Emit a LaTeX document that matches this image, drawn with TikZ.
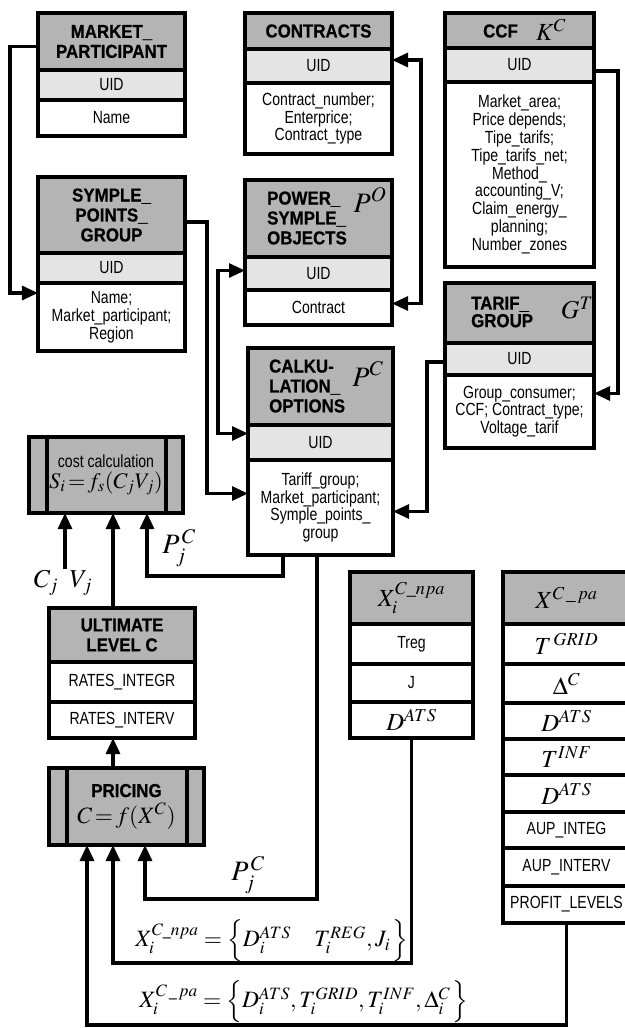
\documentclass[tikz,border=0pt]{standalone}
\usepackage{amsmath}
\usepackage{mathptmx}
\usepackage{fontspec}
\setmainfont{Liberation Sans}[FakeStretch=0.8]
\newfontfamily\hdfont{Liberation Sans Bold}[FakeStretch=0.9, FakeBold=0.6]
\usetikzlibrary{arrows.meta, positioning, calc}
\definecolor{hdgray}{HTML}{B4B4B4}
\definecolor{uidgray}{HTML}{E4E4E4}
\newcommand{\pxu}{0.03cm}
\newcommand{\rowmath}{\fontsize{21}{21}\selectfont}

\begin{document}
\begin{tikzpicture}[x=0.03cm, y=-0.03cm, line width=2.6pt,
  every node/.style={outer sep=0pt, inner sep=1pt},
  sz/.style 2 args={minimum width=#1*\pxu, minimum height=#2*\pxu},
  box/.style={draw, anchor=north west, align=center,
    font=\fontsize{15}{15.2}\selectfont},
  hdr/.style={box, fill=hdgray, font=\hdfont\fontsize{16}{17}\selectfont},
  uid/.style={box, fill=uidgray},
  fld/.style={box, fill=white},
  ttl/.style={anchor=west, align=left, font=\hdfont\fontsize{16}{17}\selectfont},
  sym/.style={font=\fontsize{24}{24}\selectfont},
  lbl/.style={font=\fontsize{20}{20}\selectfont},
  conn/.style={-{Triangle[length=4.8mm, width=4.2mm]}},
  bconn/.style={{Triangle[length=4.8mm, width=4.2mm]}-{Triangle[length=4.8mm, width=4.2mm]}}]
  \useasboundingbox (0,0) rectangle (625,1028);
  \clip (0,0) rectangle (625,1028);

  % market participant
  \node[hdr, sz={147}{57}] (mph) at (38,13) {MARKET\_\\PARTICIPANT};
  \node[uid, sz={147}{30}] (mpu) at (38,70) {UID};
  \node[fld, sz={147}{36}] (mpb) at (38,100) {Name};

  % symple points group
  \node[hdr, sz={147}{76}] (spgh) at (38,177) {SYMPLE\_\\POINTS\_\\GROUP};
  \node[uid, sz={147}{30}] (spgu) at (38,253) {UID};
  \node[fld, sz={147}{68}] (spgb) at (38,283) {Name;\\Market\_participant;\\Region};

  % contracts
  \node[hdr, sz={147}{36}] (conh) at (245,13) {CONTRACTS};
  \node[uid, sz={147}{34}] (conu) at (245,49) {UID};
  \node[fld, sz={147}{71}] (conb) at (245,83) {Contract\_number;\\Enterprice;\\Contract\_type};

  % power symple objects
  \node[hdr, sz={147}{77}] (psoh) at (245,180) {};
  \node[ttl] (psot) at (266,218) {POWER\_\\SYMPLE\_\\OBJECTS};
  \node[sym] (psos) at (370,200) {$P^O$};
  \node[uid, sz={147}{33}] (psou) at (245,257) {UID};
  \node[fld, sz={147}{35}] (psob) at (245,290) {Contract};

  % ccf
  \node[hdr, sz={149}{35}] (ccfh) at (445,13) {};
  \node[ttl] (ccft) at (482,31) {CCF};
  \node[font=\fontsize{21}{21}\selectfont] (ccfs) at (551,30) {$K^C$};
  \node[uid, sz={149}{34}] (ccfu) at (445,48) {UID};
  \node[fld, sz={149}{185}] (ccfb) at (445,82) {Market\_area;\\Price depends;\\Tipe\_tarifs;\\Tipe\_tarifs\_net;\\Method\_\\accounting\_V;\\Claim\_energy\_\\planning;\\Number\_zones};

  % tarif group
  \node[hdr, sz={149}{60}] (tgh) at (445,283) {};
  \node[ttl] (tgt) at (470,312) {TARIF\_\\[-2pt]GROUP};
  \node[font=\fontsize{22}{22}\selectfont] (tgs) at (577,308) {$G^T$};
  \node[uid, sz={149}{32}] (tgu) at (445,343) {UID};
  \node[fld, sz={149}{73}] (tgb) at (445,375) {Group\_consumer;\\CCF; Contract\_type;\\Voltage\_tarif};

  % calculation options
  \node[hdr, sz={145}{77}] (calkh) at (248,348) {};
  \node[ttl] (calkt) at (268,386) {CALKU-\\LATION\_\\OPTIONS};
  \node[sym] (calks) at (368,374) {$P^C$};
  \node[uid, sz={145}{35}] (calku) at (248,425) {UID};
  \node[fld, sz={145}{95}] (calkb) at (248,460) {Tariff\_group;\\Market\_participant;\\Symple\_points\_\\group};

  % cost calculation
  \node[box, fill=hdgray, sz={154}{76}] (cost) at (29,437)
    {cost calculation\\[3pt]\fontsize{19}{19}\selectfont$S_i\!=\!f_s(C_j V_j)$};
  \draw ($(cost.north west)+(18,0)$) -- ($(cost.south west)+(18,0)$);
  \draw ($(cost.north east)+(-17,0)$) -- ($(cost.south east)+(-17,0)$);

  % ultimate level
  \node[hdr, sz={146}{54}] (ulth) at (49,608) {ULTIMATE\\LEVEL C};
  \node[fld, sz={146}{40}] (ultr) at (49,662) {RATES\_INTEGR};
  \node[fld, sz={146}{36}] (ultv) at (49,702) {RATES\_INTERV};

  % pricing
  \node[hdr, sz={155}{77}] (prc) at (49,768)
    {PRICING\\[4pt]\fontsize{20}{20}\selectfont$C\!=\!f(X^C)$};
  \draw ($(prc.north west)+(18,0)$) -- ($(prc.south west)+(18,0)$);
  \draw ($(prc.north east)+(-17,0)$) -- ($(prc.south east)+(-17,0)$);

  % parameters npa
  \node[hdr, sz={123}{52}] (npah) at (350,572) {\fontsize{21}{21}\selectfont$X_i^{C\_npa}$};
  \node[fld, sz={123}{40}] (npa1) at (350,624) {Treg};
  \node[fld, sz={123}{38}] (npa2) at (350,664) {J};
  \node[fld, sz={123}{36}] (npa3) at (350,702) {\rowmath$D^{ATS}$};

  % parameters pa
  \node[hdr, sz={127}{52}] (pah) at (503,572) {\fontsize{21}{21}\selectfont$X^{C\,\_\,pa}$};
  \foreach \i/\y/\h/\t in {
    1/624/40/{\rowmath$T^{\,GRID}$},
    2/664/39/{\rowmath$\Delta^C$},
    3/703/36/{\rowmath$D^{ATS}$},
    4/739/36/{\rowmath$T^{INF}$},
    5/775/37/{\rowmath$D^{ATS}$},
    6/812/36/{AUP\_INTEG},
    7/848/38/{AUP\_INTERV},
    8/886/37/{PROFIT\_LEVELS}}
  {
    \node[fld, sz={127}{\h}] (pa\i) at (503,\y) {\t};
  }

  % labels
  \node[font=\fontsize{24}{24}\selectfont] (pc1) at (179,548) {$P_j^{\,C}$};
  \node[font=\fontsize{24}{24}\selectfont] (pc2) at (248,875) {$P_j^{\,C}$};
  \node[font=\fontsize{22}{22}\selectfont] (cv) at (63,583) {$C_j\ \ V_j$};
  \node[lbl] (xnpa) at (272,941) {$X_i^{C\_npa} = \Big\{ D_i^{ATS}\quad T_i^{REG}, J_i \,\Big\}$};
  \node[lbl] (xpa) at (304,1002) {$X_i^{C\,\_\,pa} = \Big\{ D_i^{ATS}, T_i^{GRID}, T_i^{INF}, \Delta_i^C \,\Big\}$};

  % connectors
  \draw[conn] ($(mph.west)+(0,5)$) -- ++(-28,0) |- ($(spgb.north west)+(0,10)$);
  \draw[conn] ($(spgh.east)+(0,7)$) -- ++(22,0) |- ($(calkb.west)+(0,-14)$);
  \draw[bconn] ($(psou.west)+(0,-3)$) -- ++(-27,0) |- ($(calku.west)+(0,-9)$);
  \draw[bconn] ($(conu.east)+(0,-6)$) -- ++(29,0) |- ($(psob.east)+(0,-4)$);
  \draw[conn] ($(ccfu.east)+(0,6)$) -- ++(24,0) |- ($(tgb.east)+(0,-18)$);
  \draw[conn] ($(tgu.west)+(0,3)$) -- ++(-18,0) |- ($(calkb.east)+(0,4)$);
  \draw[conn] ($(calkb.south west)+(35,0)$) -- ++(0,21) -| ($(cost.south east)+(-36,0)$);
  \draw[conn] ($(calkb.south west)+(69,0)$) -- ++(0,344) -| ($(prc.south west)+(96,0)$);
  \draw[conn] ($(ulth.north west)+(64,0)$) coordinate (u1) -- (u1 |- cost.south);
  \draw[conn] ($(cv.north)+(2,0)$) coordinate (u0) -- (u0 |- cost.south);
  \draw[conn] ($(prc.north west)+(64,0)$) coordinate (u2) -- (u2 |- ultv.south);
  \draw[conn] (npa3.south) -- ++(0,225) -| ($(prc.south west)+(64,0)$);
  \draw[conn] (pa8.south) -- ++(0,102) -| ($(prc.south west)+(38,0)$);
\end{tikzpicture}
\end{document}
